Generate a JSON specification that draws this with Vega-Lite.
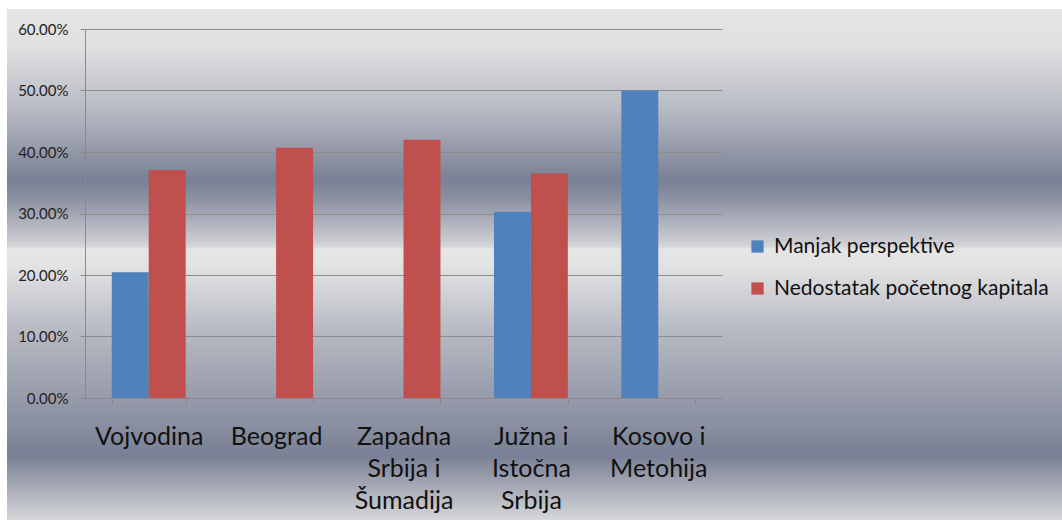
{
  "$schema": "https://vega.github.io/schema/vega-lite/v6.json",
  "width": 1055,
  "height": 511,
  "autosize": {"type": "none"},
  "padding": {"left": 7, "top": 9, "right": 0, "bottom": 0},
  "background": "#ffffff",
  "data": {
    "values": [
      {"region": "Vojvodina", "series": "Manjak perspektive", "value": 0.2043},
      {"region": "Vojvodina", "series": "Nedostatak početnog kapitala", "value": 0.3707},
      {"region": "Beograd", "series": "Manjak perspektive", "value": 0},
      {"region": "Beograd", "series": "Nedostatak početnog kapitala", "value": 0.407},
      {"region": "Zapadna Srbija i Šumadija", "series": "Manjak perspektive", "value": 0},
      {"region": "Zapadna Srbija i Šumadija", "series": "Nedostatak početnog kapitala", "value": 0.42},
      {"region": "Južna i Istočna Srbija", "series": "Manjak perspektive", "value": 0.303},
      {"region": "Južna i Istočna Srbija", "series": "Nedostatak početnog kapitala", "value": 0.365},
      {"region": "Kosovo i Metohija", "series": "Manjak perspektive", "value": 0.5},
      {"region": "Kosovo i Metohija", "series": "Nedostatak početnog kapitala", "value": 0}
    ]
  },
  "mark": {"type": "bar"},
  "encoding": {
    "x": {
      "field": "region",
      "type": "nominal",
      "sort": null,
      "scale": {"range": [78, 715], "paddingInner": 0.42, "paddingOuter": 0.21},
      "axis": {
        "title": null,
        "orient": "bottom",
        "offset": -122,
        "labelAngle": 0,
        "tickBand": "extent",
        "tickSize": 6,
        "tickColor": "#8a8a8a",
        "domainColor": "#8a8a8a",
        "labelFont": "Lato",
        "labelFontSize": 25,
        "labelColor": "#111111",
        "labelPadding": 20,
        "labelLineHeight": 32,
        "labelOverlap": false,
        "labelLimit": 0,
        "labelExpr": "datum.value == 'Zapadna Srbija i Šumadija' ? ['Zapadna','Srbija i','Šumadija'] : datum.value == 'Južna i Istočna Srbija' ? ['Južna i','Istočna','Srbija'] : datum.value == 'Kosovo i Metohija' ? ['Kosovo i','Metohija'] : datum.label"
      }
    },
    "xOffset": {"field": "series", "type": "nominal", "scale": {"paddingInner": 0, "paddingOuter": 0}},
    "y": {
      "field": "value",
      "type": "quantitative",
      "scale": {"domain": [0, 0.6], "range": [389, 20], "nice": false},
      "axis": {
        "title": null,
        "offset": -78,
        "values": [0, 0.1, 0.2, 0.3, 0.4, 0.5, 0.6],
        "format": ".2%",
        "grid": true,
        "gridColor": "#8c8c8c",
        "gridOpacity": 1,
        "tickSize": 5,
        "tickColor": "#8a8a8a",
        "domainColor": "#8a8a8a",
        "labelFont": "Lato",
        "labelFontSize": 15,
        "labelColor": "#222222",
        "labelPadding": 12
      }
    },
    "color": {
      "field": "series",
      "type": "nominal",
      "scale": {"domain": ["Manjak perspektive", "Nedostatak početnog kapitala"], "range": ["#4f81bd", "#c0504d"]},
      "legend": {
        "title": null,
        "orient": "none",
        "legendX": 740,
        "legendY": 227,
        "symbolType": "square",
        "symbolSize": 150,
        "symbolStrokeWidth": 0,
        "symbolOpacity": 1,
        "labelFont": "Lato",
        "labelFontSize": 21,
        "labelColor": "#111111",
        "labelOffset": 6,
        "rowPadding": 20,
        "labelLimit": 0
      }
    }
  },
  "config": {
    "view": {
      "stroke": null,
      "fill": {
        "gradient": "linear",
        "x1": 0, "y1": 0, "x2": 0, "y2": 1,
        "stops": [
          {"offset": 0, "color": "#e4e4e4"},
          {"offset": 0.07, "color": "#e1e1e2"},
          {"offset": 0.2, "color": "#b6b9c2"},
          {"offset": 0.335, "color": "#7a8095"},
          {"offset": 0.37, "color": "#8b90a1"},
          {"offset": 0.45, "color": "#c8c9cf"},
          {"offset": 0.464, "color": "#d4d5d8"},
          {"offset": 0.47, "color": "#e6e6e6"},
          {"offset": 0.505, "color": "#e2e2e3"},
          {"offset": 0.63, "color": "#b7bac3"},
          {"offset": 0.875, "color": "#7a8095"},
          {"offset": 1, "color": "#d6d7da"}
        ]
      }
    }
  }
}
